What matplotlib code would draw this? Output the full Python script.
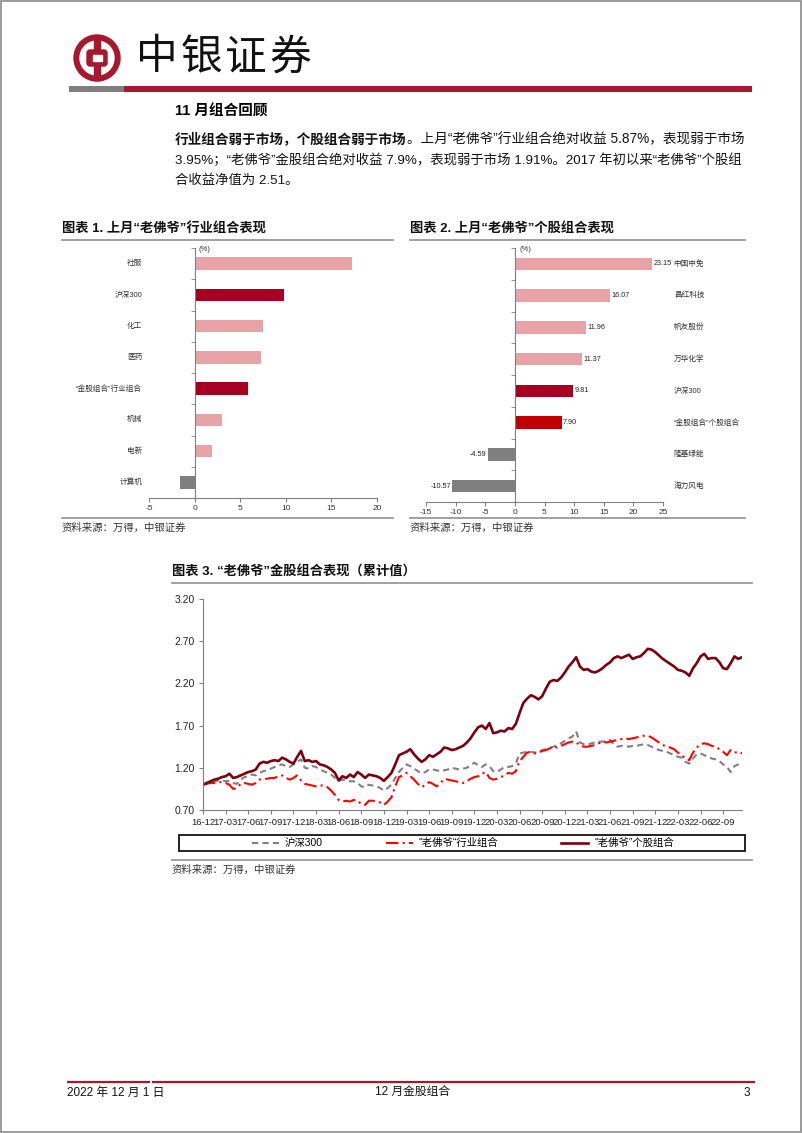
import numpy as np
import matplotlib
matplotlib.use('Agg')
import matplotlib.pyplot as plt
import matplotlib.transforms as mtransforms
from matplotlib.patches import Rectangle, Circle, FancyBboxPatch
from matplotlib.ticker import FormatStrFormatter

plt.rcParams['axes.unicode_minus'] = False

W, H = 802, 1133
CJK = 'Noto Sans CJK SC'
MIX = ['Liberation Sans', CJK]
NARROW = ['Liberation Sans Narrow', 'Liberation Sans', CJK]

# Chart 1: industry portfolio, last month (%)
ind_names = ['社服', '沪深300', '化工', '医药', '“金股组合”行业组合', '机械', '电新', '计算机']
ind_returns = [17.3, 9.81, 7.55, 7.24, 5.87, 3.05, 1.87, -1.58]

# Chart 2: stock portfolio, last month (%)
stock_names = ['中国中免', '昌红科技', '帆友股份', '万华化学', '沪深300', '“金股组合”个股组合', '隆基绿能', '海力风电']
stock_returns = [23.15, 16.07, 11.96, 11.37, 9.81, 7.90, -4.59, -10.57]

# Chart 3: cumulative value, two points per month from 2016-12
quarter_labels = ['16-12', '17-03', '17-06', '17-09', '17-12', '18-03', '18-06', '18-09',
                  '18-12', '19-03', '19-06', '19-09', '19-12', '20-03', '20-06', '20-09',
                  '20-12', '21-03', '21-06', '21-09', '21-12', '22-03', '22-06', '22-09']

hs300 = [1.00, 1.02, 1.03, 1.04, 1.05, 1.05, 1.04, 1.045, 1.02, 1.01, 1.06, 1.09,
         1.10, 1.12, 1.11, 1.14, 1.16, 1.17, 1.19, 1.21, 1.23, 1.24, 1.22, 1.21,
         1.24, 1.27, 1.30, 1.20, 1.19, 1.22, 1.21, 1.18, 1.16, 1.14, 1.12, 1.08,
         1.045, 1.06, 1.05, 1.04, 1.04, 1.02, 0.98, 0.97, 1.00, 0.99, 0.98, 0.96,
         0.93, 0.96, 1.00, 1.08, 1.15, 1.20, 1.24, 1.22, 1.19, 1.16, 1.13, 1.15,
         1.18, 1.18, 1.17, 1.16, 1.17, 1.18, 1.20, 1.19, 1.18, 1.19, 1.20, 1.23,
         1.26, 1.23, 1.21, 1.24, 1.22, 1.16, 1.15, 1.18, 1.21, 1.21, 1.22, 1.25,
         1.37, 1.38, 1.39, 1.39, 1.38, 1.39, 1.41, 1.42, 1.44, 1.45, 1.47, 1.49,
         1.52, 1.55, 1.57, 1.63, 1.50, 1.48, 1.47, 1.49, 1.50, 1.51, 1.51, 1.52,
         1.53, 1.48, 1.45, 1.46, 1.46, 1.45, 1.46, 1.46, 1.47, 1.48, 1.47, 1.45,
         1.43, 1.41, 1.40, 1.39, 1.37, 1.35, 1.33, 1.32, 1.27, 1.25, 1.31, 1.36,
         1.37, 1.35, 1.33, 1.31, 1.30, 1.28, 1.24, 1.21, 1.15, 1.22, 1.24, 1.25]

ind_port = [1.00, 1.01, 1.02, 1.02, 1.03, 1.03, 1.02, 1.00, 0.95, 0.96, 1.01, 1.02,
            1.01, 1.00, 1.02, 1.06, 1.07, 1.07, 1.08, 1.08, 1.10, 1.11, 1.08, 1.06,
            1.08, 1.11, 1.05, 1.01, 1.00, 0.99, 0.98, 0.99, 0.99, 0.97, 0.93, 0.88,
            0.82, 0.80, 0.81, 0.80, 0.82, 0.81, 0.77, 0.76, 0.81, 0.81, 0.80, 0.79,
            0.76, 0.80, 0.85, 0.98, 1.09, 1.11, 1.14, 1.10, 1.06, 1.01, 0.97, 1.00,
            1.03, 1.01, 0.98, 1.02, 1.07, 1.06, 1.05, 1.04, 1.03, 1.02, 1.04, 1.07,
            1.09, 1.10, 1.13, 1.15, 1.08, 1.06, 1.07, 1.09, 1.11, 1.14, 1.13, 1.16,
            1.28, 1.33, 1.38, 1.39, 1.37, 1.38, 1.40, 1.41, 1.43, 1.45, 1.44, 1.46,
            1.48, 1.50, 1.51, 1.50, 1.47, 1.45, 1.45, 1.46, 1.47, 1.49, 1.51, 1.50,
            1.51, 1.52, 1.53, 1.54, 1.55, 1.54, 1.55, 1.56, 1.57, 1.58, 1.58, 1.56,
            1.53, 1.50, 1.47, 1.45, 1.44, 1.42, 1.38, 1.35, 1.31, 1.29, 1.38, 1.44,
            1.48, 1.49, 1.48, 1.46, 1.45, 1.42, 1.39, 1.35, 1.41, 1.38, 1.39, 1.37]

stock_port = [1.00, 1.02, 1.04, 1.06, 1.07, 1.09, 1.10, 1.13, 1.08, 1.09, 1.11, 1.13,
              1.15, 1.16, 1.18, 1.25, 1.27, 1.26, 1.28, 1.29, 1.28, 1.32, 1.30, 1.27,
              1.25, 1.33, 1.40, 1.28, 1.29, 1.27, 1.28, 1.24, 1.23, 1.21, 1.18, 1.14,
              1.05, 1.10, 1.08, 1.12, 1.09, 1.15, 1.12, 1.08, 1.12, 1.11, 1.10, 1.08,
              1.045, 1.09, 1.14, 1.24, 1.35, 1.37, 1.39, 1.42, 1.36, 1.31, 1.27, 1.30,
              1.35, 1.33, 1.36, 1.39, 1.44, 1.43, 1.41, 1.42, 1.44, 1.46, 1.50, 1.55,
              1.62, 1.68, 1.70, 1.66, 1.73, 1.61, 1.62, 1.64, 1.63, 1.67, 1.66, 1.72,
              1.85, 1.97, 2.02, 2.06, 2.04, 2.01, 2.05, 2.14, 2.22, 2.24, 2.23, 2.27,
              2.33, 2.40, 2.45, 2.51, 2.40, 2.36, 2.37, 2.34, 2.33, 2.35, 2.38, 2.42,
              2.45, 2.50, 2.52, 2.50, 2.52, 2.54, 2.49, 2.51, 2.52, 2.56, 2.61, 2.60,
              2.57, 2.53, 2.49, 2.46, 2.43, 2.40, 2.36, 2.35, 2.33, 2.29, 2.38, 2.44,
              2.52, 2.55, 2.49, 2.50, 2.50, 2.45, 2.38, 2.37, 2.44, 2.52, 2.49, 2.51]

PINK = '#E8A3A6'
DARK_RED = '#A50021'
RED = '#C00000'
GRAY = '#7F7F7F'
BRAND = '#A8172B'


def px_rect(x0, y0, x1, y1):
    # page pixel box -> figure fraction
    return [x0 / W, 1 - y1 / H, (x1 - x0) / W, (y1 - y0) / H]


def bar_color(name, value):
    if value < 0:
        return GRAY
    if name == '沪深300':
        return DARK_RED
    if '金股组合' in name:
        return RED if '个股' in name else DARK_RED
    return PINK


fig = plt.figure(figsize=(W / 100, H / 100), dpi=100)
bg = fig.add_axes([0, 0, 1, 1])
bg.set_xlim(0, W)
bg.set_ylim(H, 0)
bg.axis('off')
bg.add_patch(Rectangle((1, 1), W - 2, H - 2, fill=False, ec='#8a8a8a', lw=1.2))

# --- header: logo, company name, rule
bg.add_patch(Circle((97, 58), 23, color=BRAND))
bg.add_patch(Circle((97, 58), 17, color='white'))
bg.add_patch(Rectangle((94, 36), 6, 44, color=BRAND))
bg.add_patch(FancyBboxPatch((87, 50), 20, 16, boxstyle='round,pad=0,rounding_size=3', color=BRAND))
bg.add_patch(Rectangle((92.5, 55), 9, 6, color='white'))
for i, ch in enumerate('中银证券'):
    bg.text(157 + 44.3 * i, 58, ch, fontsize=30, family=CJK, ha='center', va='center', color='#111111')
bg.plot([69, 124], [89, 89], color='#7F7F7F', lw=4.3, solid_capstyle='butt')
bg.plot([124, 752], [89, 89], color=BRAND, lw=4.3, solid_capstyle='butt')

# --- intro text
renderer = fig.canvas.get_renderer()


def put_runs(x, y, runs, size):
    for s, bold in runs:
        t = bg.text(x, y, s, fontsize=size, fontweight='bold' if bold else 'normal',
                    family=MIX, ha='left', va='center', color='#111111')
        x += t.get_window_extent(renderer).width


bg.text(175, 111, '11 月组合回顾', fontsize=10.5, fontweight='bold', family=MIX, va='center')
put_runs(175, 139, [('行业组合弱于市场，个股组合弱于市场', True),
                    ('。上月“老佛爷”行业组合绝对收益 5.87%，表现弱于市场', False)], 9.8)
put_runs(175, 160, [('3.95%；“老佛爷”金股组合绝对收益 7.9%，表现弱于市场 1.91%。2017 年初以来“老佛爷”个股组', False)], 9.6)
put_runs(175, 181, [('合收益净值为 2.51。', False)], 9.6)


def section(x0, x1, y_title, y_bottom, title):
    bg.text(x0, y_title, title, fontsize=9.5, fontweight='bold', family=MIX, va='center', color='#111111')
    bg.plot([x0, x1], [y_title + 11, y_title + 11], color='#9a9a9a', lw=1.3)
    bg.plot([x0, x1], [y_bottom, y_bottom], color='#9a9a9a', lw=1.3)
    bg.text(x0, y_bottom + 10, '资料来源：万得，中银证券', fontsize=7.5, family=CJK,
            style='italic', va='center', color='#333333')


section(62, 393, 229, 518, '图表 1. 上月“老佛爷”行业组合表现')
section(410, 745, 229, 518, '图表 2. 上月“老佛爷”个股组合表现')
section(172, 752, 572, 860, '图表 3. “老佛爷”金股组合表现（累计值）')


def bar_chart(rect, names, values, xlim, names_right, value_labels):
    ax = fig.add_axes(px_rect(*rect))
    ax.patch.set_alpha(0)
    pos = np.arange(len(names))
    bars = ax.barh(pos, values, height=0.4, color=[bar_color(n, v) for n, v in zip(names, values)])
    ax.set_ylim(len(names) - 0.5, -0.5)
    ax.set_xlim(*xlim)
    ax.set_xticks(np.arange(xlim[0], xlim[1] + 1, 5))
    for s in ['top', 'right']:
        ax.spines[s].set_visible(False)
    ax.spines['left'].set_position(('data', 0))
    for s in ['left', 'bottom']:
        ax.spines[s].set_color('#808080')
        ax.spines[s].set_linewidth(0.8)
    ax.set_yticks(pos)
    ax.set_yticklabels([])
    ax.set_yticks(np.arange(-0.5, len(names)), minor=True)
    ax.tick_params(axis='y', which='major', length=0)
    ax.tick_params(axis='y', which='minor', length=3, color='#808080')
    ax.tick_params(axis='x', length=3, color='#808080', labelsize=6, labelcolor='#333333', pad=2)
    for lab in ax.get_xticklabels():
        lab.set_family(MIX)
    trans = mtransforms.blended_transform_factory(ax.transAxes, ax.transData)
    for p, n in zip(pos, names):
        if names_right:
            ax.text(1.045, p, n, transform=trans, ha='left', va='center', fontsize=5.5, family=MIX, color='#333333')
        else:
            ax.text(-0.03, p, n, transform=trans, ha='right', va='center', fontsize=5.5, family=MIX, color='#333333')
    top = mtransforms.blended_transform_factory(ax.transData, ax.transAxes)
    ax.annotate('(%)', xy=(0, 1), xycoords=top, xytext=(3, -1), textcoords='offset points',
                fontsize=5.5, family=MIX, va='center', color='#333333')
    if value_labels:
        ax.bar_label(bars, fmt='%.2f', padding=1, fontsize=5.2, family=MIX, color='#222222')
    return ax


bar_chart((149, 248, 377, 498), ind_names, ind_returns, (-5, 20), False, False)
bar_chart((426, 248, 663, 502), stock_names, stock_returns, (-15, 25), True, True)

# --- chart 3: cumulative lines
ax3 = fig.add_axes(px_rect(203, 599, 742, 810))
ax3.patch.set_alpha(0)
x = np.arange(len(stock_port))
ax3.plot(x, hs300, color='#808080', lw=1.5, ls=(0, (3, 2)), label='沪深300')
ax3.plot(x, ind_port, color='#FF0000', lw=1.5, ls=(0, (6, 2, 1, 2)), label='"老佛爷“行业组合')
ax3.plot(x, stock_port, color='#7A0010', lw=1.9, label='"老佛爷”个股组合')
ax3.set_xlim(0, len(x) - 1)
ax3.set_ylim(0.7, 3.2)
ax3.set_yticks(np.arange(0.7, 3.21, 0.5))
ax3.yaxis.set_major_formatter(FormatStrFormatter('%.2f'))
ax3.set_xticks(np.arange(0, len(x), 6)[:len(quarter_labels)])
ax3.set_xticklabels(quarter_labels)
for s in ['top', 'right']:
    ax3.spines[s].set_visible(False)
for s in ['left', 'bottom']:
    ax3.spines[s].set_color('#808080')
    ax3.spines[s].set_linewidth(0.8)
ax3.tick_params(length=3, color='#808080', labelsize=7.5, labelcolor='#222222', pad=3)
ax3.tick_params(axis='x', labelsize=6.8)
for lab in ax3.get_xticklabels() + ax3.get_yticklabels():
    lab.set_family(NARROW)

bg.add_patch(Rectangle((179, 835), 566, 16, fill=False, ec='#111111', lw=1.3))
ax3.legend(loc='center', bbox_to_anchor=(463, 843), bbox_transform=bg.transData, ncol=3,
           frameon=False, prop={'family': MIX, 'size': 7.5}, handlelength=2.6,
           handletextpad=0.6, columnspacing=6.0, borderpad=0)

# --- footer
bg.plot([67, 150], [1082, 1082], color=BRAND, lw=1.6, solid_capstyle='butt')
bg.plot([152, 755], [1082, 1082], color=BRAND, lw=1.6, solid_capstyle='butt')
bg.text(67, 1093, '2022 年 12 月 1 日', fontsize=8.5, family=NARROW, va='center', color='#111111')
bg.text(413, 1093, '12 月金股组合', fontsize=8.5, family=NARROW, ha='center', va='center', color='#111111')
bg.text(750, 1093, '3', fontsize=8.5, family=NARROW, ha='right', va='center', color='#111111')

fig.savefig('out.png', dpi=100)
